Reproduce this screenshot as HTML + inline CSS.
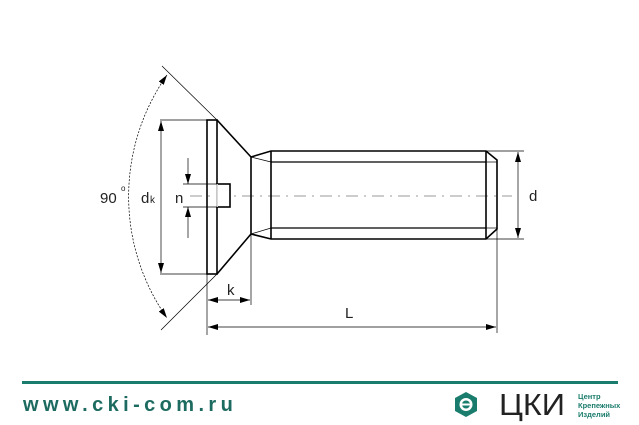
<!DOCTYPE html>
<html><head><meta charset="utf-8"><style>
html,body{margin:0;padding:0;background:#fff;width:639px;height:425px;overflow:hidden}
svg{display:block}
</style></head><body>
<svg width="639" height="425" viewBox="0 0 639 425" xmlns="http://www.w3.org/2000/svg" font-family="Liberation Sans, sans-serif">
<defs>
<marker id="a" viewBox="0 0 10 6" refX="10" refY="3" markerWidth="10" markerHeight="6" orient="auto-start-reverse" markerUnits="userSpaceOnUse"><path d="M0,0 L10,3 L0,6 z" fill="#000"/></marker>
</defs>
<line x1="190" y1="196" x2="512" y2="196" stroke="#999" stroke-width="1" stroke-dasharray="12,6,2,6"/>
<g fill="none" stroke="#000" stroke-width="1.6">
<rect x="207" y="120" width="10" height="154"/>
<rect x="217" y="184" width="13" height="23" fill="#fff"/>
<line x1="217" y1="184" x2="217" y2="207" stroke="#fff" stroke-width="1.5"/>
<polyline points="217,120 251,157 251,234 217,274"/>
<polyline points="251,157 271,151 486,151 497,160 497,229 486,239 271,239 251,234"/>
<line x1="271" y1="151" x2="271" y2="239"/>
<line x1="486" y1="151" x2="486" y2="239"/>
<line x1="271" y1="162" x2="486" y2="162" stroke-width="1.2"/>
<line x1="271" y1="228" x2="486" y2="228" stroke-width="1.2"/>
</g>
<g stroke="#000" stroke-width="0.7" fill="none">
<line x1="251" y1="157" x2="271" y2="162"/>
<line x1="251" y1="234" x2="271" y2="228"/>
<line x1="486" y1="162" x2="497" y2="162"/>
<line x1="486" y1="228" x2="497" y2="228"/>
<line x1="162" y1="66" x2="217" y2="120"/>
<line x1="217" y1="274" x2="161" y2="330"/>
<line x1="160" y1="120" x2="207" y2="120"/>
<line x1="160" y1="274" x2="207" y2="274"/>
<line x1="183" y1="184" x2="217" y2="184"/>
<line x1="183" y1="207" x2="217" y2="207"/>
<line x1="207" y1="274" x2="207" y2="335"/>
<line x1="251" y1="234" x2="251" y2="305"/>
<line x1="497" y1="229" x2="497" y2="333"/>
<line x1="486" y1="151" x2="524" y2="151"/>
<line x1="486" y1="239" x2="524" y2="239"/>
<line x1="161" y1="121" x2="161" y2="273" marker-start="url(#a)" marker-end="url(#a)"/>
<line x1="188" y1="158" x2="188" y2="184" marker-end="url(#a)"/>
<line x1="188" y1="238" x2="188" y2="207" marker-end="url(#a)"/>
<line x1="208" y1="300" x2="250" y2="300" marker-start="url(#a)" marker-end="url(#a)"/>
<line x1="208" y1="327" x2="496" y2="327" marker-start="url(#a)" marker-end="url(#a)"/>
<line x1="518" y1="152" x2="518" y2="238" marker-start="url(#a)" marker-end="url(#a)"/>
<path d="M167,75 A211.6,211.6 0 0 0 167,318" stroke-dasharray="2,1.5" marker-start="url(#a)" marker-end="url(#a)"/>
</g>
<g fill="#222" font-size="15">
<text x="100" y="203">90</text>
<text x="121" y="191" font-size="8">o</text>
<text x="141" y="203">d</text><text x="150" y="203" font-size="10">k</text>
<text x="175" y="203">n</text>
<text x="227" y="295">k</text>
<text x="345" y="318">L</text>
<text x="529" y="201">d</text>
</g>
<rect x="22" y="381" width="596" height="3" fill="#1a7c6c"/>
<text x="23" y="411" font-size="20" font-weight="bold" fill="#1d6b60" letter-spacing="4.4">www.cki-com.ru</text>
<polygon points="466,392 477,398 477,411 466,417 455,411 455,398" fill="#1a7c6c"/>
<circle cx="466" cy="404.5" r="6.5" fill="#fff"/>
<circle cx="466" cy="404.5" r="4" fill="#1a7c6c"/>
<rect x="461" y="403.5" width="10" height="2" fill="#fff"/>
<text x="499" y="415" font-size="31" fill="#222" font-family="Liberation Sans, DejaVu Sans, sans-serif" textLength="66" lengthAdjust="spacingAndGlyphs">ЦКИ</text>
<text x="578" y="399" font-size="7.5" fill="#1a7c6c" font-weight="bold">Центр</text>
<text x="578" y="408" font-size="7.5" fill="#1a7c6c" font-weight="bold">Крепежных</text>
<text x="578" y="417" font-size="7.5" fill="#1a7c6c" font-weight="bold">Изделий</text>
</svg>
</body></html>
